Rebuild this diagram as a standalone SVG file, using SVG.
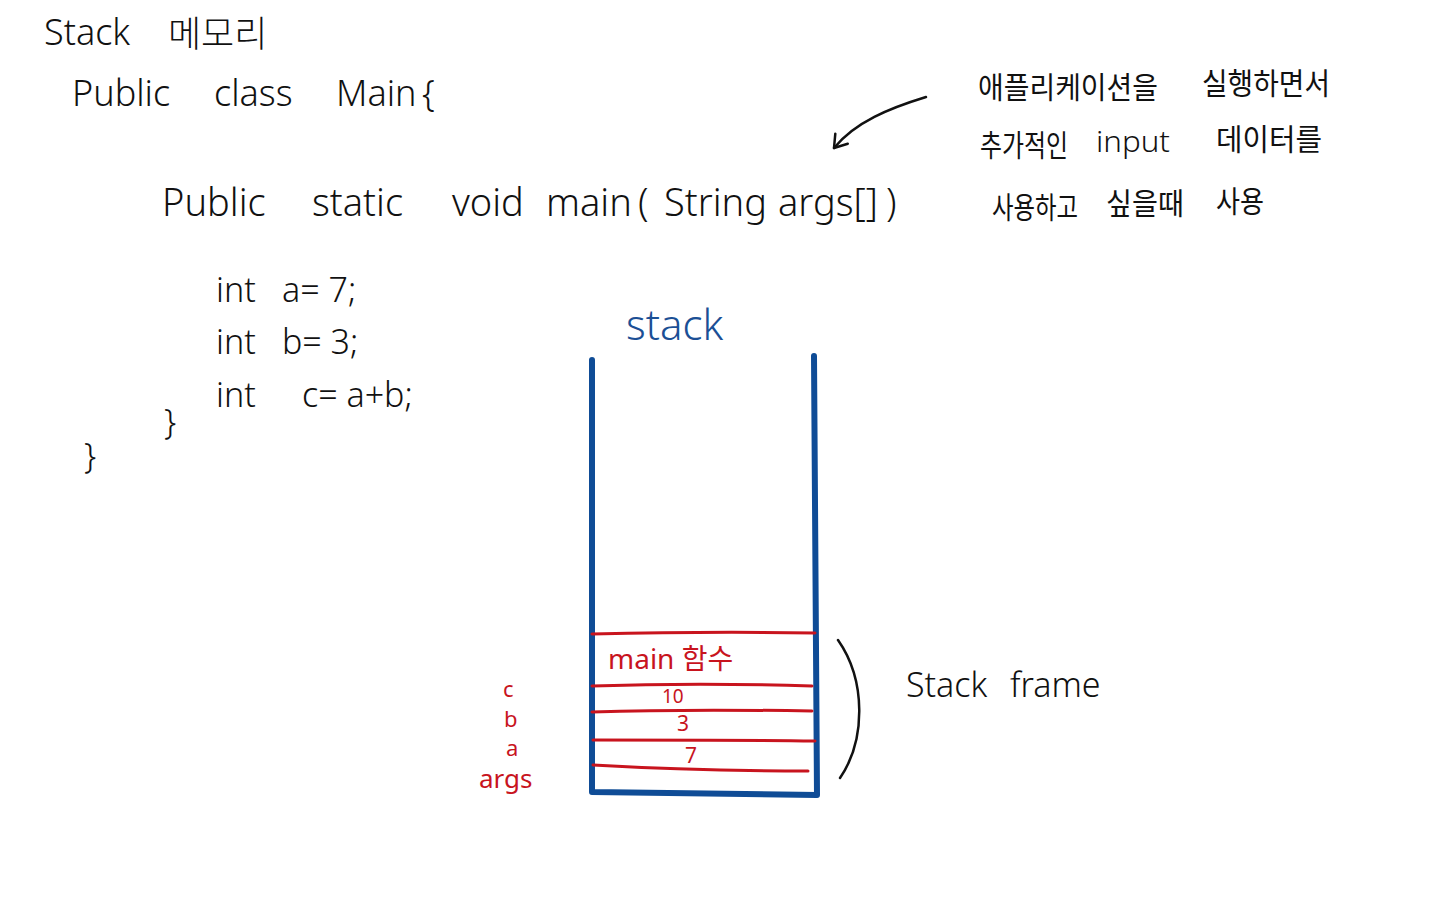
<svg xmlns="http://www.w3.org/2000/svg" width="1440" height="900" viewBox="0 0 1440 900">
<style>
  .hw { font-family: "Noto Sans", "Noto Sans CJK KR", sans-serif; font-weight: 300; fill: #111; }
  .kr { font-family: "Noto Sans CJK KR", "Noto Sans", sans-serif; font-weight: 400; fill: #111; font-size: 30px; }
  .red { font-family: "Noto Sans", "Noto Sans CJK KR", sans-serif; font-weight: 400; fill: #c8141e; }
  .blue { font-family: "Noto Sans", sans-serif; font-weight: 300; fill: #1b4f95; }
  .ink { fill: none; stroke: #111; stroke-width: 2.5; stroke-linecap: round; stroke-linejoin: round; }
  .rline { fill: none; stroke: #c8141e; stroke-width: 3; stroke-linecap: round; }
  .stack { fill: none; stroke: #0f4c96; stroke-width: 6; stroke-linecap: round; stroke-linejoin: round; }
</style>
<defs>
  <marker id="ah" viewBox="0 0 20 20" refX="16" refY="10" markerWidth="20" markerHeight="20" markerUnits="userSpaceOnUse" orient="auto">
    <path d="M4,2 L16,10 L4,18" fill="none" stroke="#111" stroke-width="2.5" stroke-linecap="round" stroke-linejoin="round"/>
  </marker>
</defs>
<rect width="1440" height="900" fill="#fff"/>

<g id="code">
  <text class="hw" x="44" y="45" font-size="36">Stack</text>
  <text class="hw" x="168" y="47" font-size="36">메모리</text>
  <text class="hw" font-size="36" y="106"><tspan x="72">Public</tspan><tspan x="214">class</tspan><tspan x="336">Main</tspan><tspan x="422">{</tspan></text>
  <text class="hw" font-size="38" y="216"><tspan x="162">Public</tspan><tspan x="312">static</tspan><tspan x="452">void</tspan><tspan x="546">main</tspan><tspan x="638">(</tspan><tspan x="664">String</tspan><tspan x="778">args[]</tspan><tspan x="886">)</tspan></text>
  <text class="hw" font-size="34" y="302"><tspan x="216">int</tspan><tspan x="282">a= 7;</tspan></text>
  <text class="hw" font-size="34" y="354"><tspan x="216">int</tspan><tspan x="282">b= 3;</tspan></text>
  <text class="hw" font-size="34" y="407"><tspan x="216">int</tspan><tspan x="302">c= a+b;</tspan></text>
  <text class="hw" x="164" y="434" font-size="34">}</text>
  <text class="hw" x="84" y="468" font-size="34">}</text>
</g>

<g id="note">
  <text class="kr" x="978" y="98" textLength="180" lengthAdjust="spacingAndGlyphs">애플리케이션을</text>
  <text class="kr" x="1202" y="94" textLength="128" lengthAdjust="spacingAndGlyphs">실행하면서</text>
  <text class="kr" x="980" y="156" textLength="88" lengthAdjust="spacingAndGlyphs">추가적인</text>
  <text class="hw" x="1096" y="152" font-size="30" textLength="74" lengthAdjust="spacingAndGlyphs">input</text>
  <text class="kr" x="1216" y="150" textLength="106" lengthAdjust="spacingAndGlyphs">데이터를</text>
  <text class="kr" x="992" y="218" textLength="86" lengthAdjust="spacingAndGlyphs">사용하고</text>
  <text class="kr" x="1106" y="214" textLength="78" lengthAdjust="spacingAndGlyphs">싶을때</text>
  <text class="kr" x="1216" y="212" textLength="48" lengthAdjust="spacingAndGlyphs">사용</text>
</g>

<g id="connectors">
  <path class="ink" d="M926,97 C890,108 855,122 834,148" marker-end="url(#ah)"/>
  <path class="ink" d="M838,640 C866,680 866,740 840,778"/>
</g>

<g id="stack">
  <text class="blue" x="626" y="340" font-size="42">stack</text>
  <path class="stack" d="M592,360 L592,792 L817,795 L814,356"/>
  <path class="rline" d="M592,634 C680,632 750,632 815,633"/>
  <path class="rline" d="M592,686 C680,683 750,684 812,686"/>
  <path class="rline" d="M592,712 C680,709 750,710 812,711"/>
  <path class="rline" d="M593,740 C680,740 750,740 815,741"/>
  <path class="rline" d="M593,765 C680,770 750,771 808,771"/>
</g>

<g id="frame-main">
  <text class="red" x="608" y="669" font-size="28">main 함수</text>
</g>
<g id="frame-c">
  <text class="red" x="662" y="703" font-size="19">10</text>
  <text class="red" x="503" y="697" font-size="22">c</text>
</g>
<g id="frame-b">
  <text class="red" x="677" y="731" font-size="21">3</text>
  <text class="red" x="504" y="727" font-size="22">b</text>
</g>
<g id="frame-a">
  <text class="red" x="685" y="763" font-size="21">7</text>
  <text class="red" x="506" y="756" font-size="22">a</text>
</g>
<g id="frame-args">
  <text class="red" x="479" y="788" font-size="26">args</text>
</g>

<g id="stack-frame-label">
  <text class="hw" font-size="34" y="697"><tspan x="906">Stack</tspan><tspan x="1010">frame</tspan></text>
</g>
</svg>
